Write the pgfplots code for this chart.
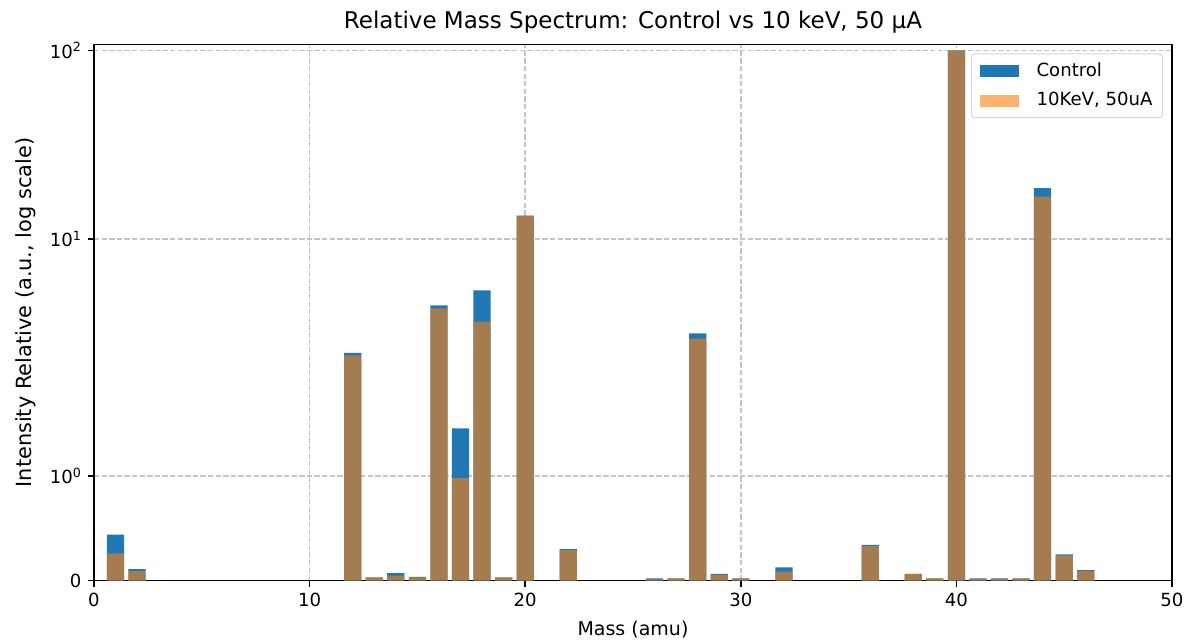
\documentclass[border=0pt]{standalone}
\usepackage{fontspec}
\setmainfont{DejaVu Sans}
\usepackage{pgfplots}
\pgfplotsset{compat=1.18}
\definecolor{mplblue}{HTML}{1F77B4}
\definecolor{mplorange}{HTML}{FF7F0E}
\definecolor{gridgray}{HTML}{C4C4C4}
\definecolor{legedge}{HTML}{D6D6D6}

% mass (amu), relative intensity: control and 10 keV, 50 uA
\pgfplotstableread{
m   ctrl   irr
1   0.44   0.26
2   0.11   0.09
12  3.31   3.23
13  0.03   0.03
14  0.07   0.046
15  0.035  0.03
16  5.25   5.10
17  1.59   0.98
18  6.07   4.48
19  0.03   0.03
20  13.3   13.3
22  0.30   0.29
26  0.02   0.01
27  0.02   0.02
28  4.00   3.80
29  0.064  0.054
30  0.02   0.02
32  0.125  0.086
36  0.34   0.33
38  0.064  0.064
39  0.02   0.02
40  100    100
41  0.02   0.012
42  0.02   0.012
43  0.02   0.02
44  18.6   16.8
45  0.25   0.24
46  0.10   0.093
}\spectrum

\begin{document}
\fontsize{18.1bp}{21.7bp}\selectfont
\begin{tikzpicture}
\path[use as bounding box] (0,0) rectangle (1185bp,643bp);
\begin{axis}[
  at={(94bp,62.5bp)}, anchor=south west,
  scale only axis, width=1078bp, height=536bp,
  xmin=0, xmax=50, ymin=0, ymax=107.6,
  % symlog-like scale: linear up to 1, then logarithmic decades
  y coord trafo/.code={\pgfmathparse{1.045*min(#1,1)+2.37*log10(max(min(#1,10),1))+1.885*log10(max(#1,10)/10)}},
  xtick={0,10,20,30,40,50},
  ytick={0,1,10,100},
  yticklabels={0,10\textsuperscript{0},10\textsuperscript{1},10\textsuperscript{2}},
  /pgf/number format/assume math mode=true,
  tick label style={font=\fontsize{18.1bp}{21.7bp}\selectfont},
  xtick pos=bottom, ytick pos=left,
  tick align=outside, major tick length=6.3bp,
  every tick/.style={black, line width=1.45bp},
  axis line style={line width=1.45bp},
  minor tick num=0,
  grid=major,
  major grid style={gridgray, line width=1.45bp, dash pattern=on 5.3bp off 2.3bp},
  title={Relative Mass Spectrum: Control vs 10 keV, 50 μA},
  title style={font=\fontsize{23bp}{27bp}\selectfont, yshift=-1bp},
  xlabel={Mass (amu)},
  ylabel={Intensity Relative (a.u., log scale)},
  xlabel style={font=\fontsize{19bp}{22bp}\selectfont, yshift=-2bp},
  ylabel style={font=\fontsize{20.9bp}{24bp}\selectfont, yshift=2bp},
  legend style={at={(rel axis cs:1,1)}, anchor=north east, xshift=-9bp, yshift=-9bp,
    draw=legedge, line width=1bp, rounded corners=3bp, fill=white,
    font=\fontsize{18.1bp}{21.7bp}\selectfont,
    row sep=9bp, column sep=16bp, inner xsep=8bp, inner ysep=7bp},
  legend cell align=left,
  legend image code/.code={\fill[#1, draw=none, sharp corners] (0bp,-6bp) rectangle (39bp,6bp);},
]
\addplot[ybar, bar width=0.8, bar shift=0pt, fill=mplblue, draw=none]
  table[x=m, y=ctrl] {\spectrum};
\addlegendentry{Control}
\addplot[ybar, bar width=0.8, bar shift=0pt, fill=mplorange, fill opacity=0.6, draw=none]
  table[x=m, y=irr] {\spectrum};
\addlegendentry{10KeV, 50uA}
\end{axis}
\end{tikzpicture}
\end{document}
